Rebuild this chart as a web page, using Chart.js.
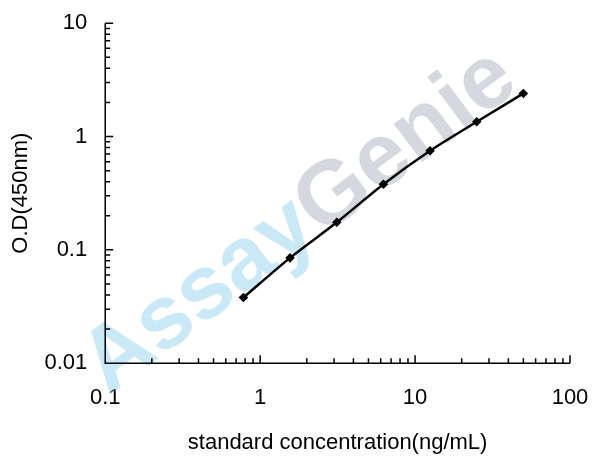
<!DOCTYPE html>
<html><head><meta charset="utf-8">
<script src="https://cdn.jsdelivr.net/npm/chart.js@4"></script>
<style>html,body{margin:0;background:#fff}#wrap{width:608px;height:468px}</style>
</head><body><div id="wrap"><canvas id="c"></canvas></div>
<script>
var concentrations = [0.78, 1.56, 3.125, 6.25, 12.5, 25, 50];
var odValues = [0.038, 0.085, 0.175, 0.38, 0.75, 1.35, 2.4];
var xTicks = [0.1, 1, 10, 100];
var yTicks = [0.01, 0.1, 1, 10];

var font = {family: 'Liberation Sans, Arial', size: 22};

// minor ticks drawn inward, watermark behind
var extras = {
    id: 'extras',
    beforeDatasetsDraw: function (chart) {
        var ctx = chart.ctx, a = chart.chartArea;
        ctx.save();
        ctx.translate(300, 222);
        ctx.rotate(-0.64);
        ctx.font = 'bold 90px Liberation Sans, Arial';
        ctx.textBaseline = 'middle';
        var w1 = ctx.measureText('Assay').width;
        var w2 = ctx.measureText('Genie').width;
        var start = -(w1 + w2) / 2;
        ctx.fillStyle = 'rgba(120,200,235,0.4)';
        ctx.fillText('Assay', start, 0);
        ctx.fillStyle = 'rgba(150,160,175,0.4)';
        ctx.fillText('Genie', start + w1, 0);
        ctx.restore();

        ctx.save();
        ctx.strokeStyle = '#000';
        ctx.lineWidth = 1.5;
        ctx.beginPath();
        ctx.moveTo(a.left, a.top);
        ctx.lineTo(a.left, a.bottom);
        ctx.lineTo(a.right, a.bottom);
        var xs = chart.scales.x, ys = chart.scales.y;
        xTicks.slice(0, -1).forEach(function (d) {
            for (var k = 1; k <= 10; k++) {
                var px = xs.getPixelForValue(d * k);
                var len = k === 10 ? 8 : 5;
                ctx.moveTo(px, a.bottom);
                ctx.lineTo(px, a.bottom - len);
            }
        });
        yTicks.slice(0, -1).forEach(function (d) {
            for (var k = 1; k <= 10; k++) {
                var py = ys.getPixelForValue(d * k);
                var len = k === 10 ? 8 : 5;
                ctx.moveTo(a.left, py);
                ctx.lineTo(a.left + len, py);
            }
        });
        ctx.stroke();
        ctx.restore();
    }
};

new Chart(document.getElementById('c'), {
    type: 'line',
    data: {
        datasets: [{
            data: concentrations.map(function (x, i) { return {x: x, y: odValues[i]}; }),
            borderColor: '#000',
            backgroundColor: '#000',
            borderWidth: 2.5,
            pointStyle: 'rectRot',
            pointRadius: 3,
            tension: 0.3
        }]
    },
    options: {
        responsive: true,
        maintainAspectRatio: false,
        animation: false,
        layout: {padding: {top: 18, right: 38, bottom: 8, left: 4}},
        plugins: {legend: {display: false}, tooltip: {enabled: false}},
        scales: {
            x: {
                type: 'logarithmic', min: 0.1, max: 100,
                afterBuildTicks: function (s) { s.ticks = xTicks.map(function (v) { return {value: v}; }); },
                ticks: {color: '#000', font: font, padding: 14, maxRotation: 0,
                    callback: function (v) { return String(v); }},
                grid: {display: false},
                border: {display: false},
                title: {display: true, text: 'standard concentration(ng/mL)', color: '#000', font: font, padding: {top: 4}}
            },
            y: {
                type: 'logarithmic', min: 0.01, max: 10,
                afterBuildTicks: function (s) { s.ticks = yTicks.map(function (v) { return {value: v}; }); },
                ticks: {color: '#000', font: font, padding: 10,
                    callback: function (v) { return String(v); }},
                grid: {display: false},
                border: {display: false},
                title: {display: true, text: 'O.D(450nm)', color: '#000', font: font, padding: {bottom: 0}}
            }
        }
    },
    plugins: [extras]
});
</script></body></html>
